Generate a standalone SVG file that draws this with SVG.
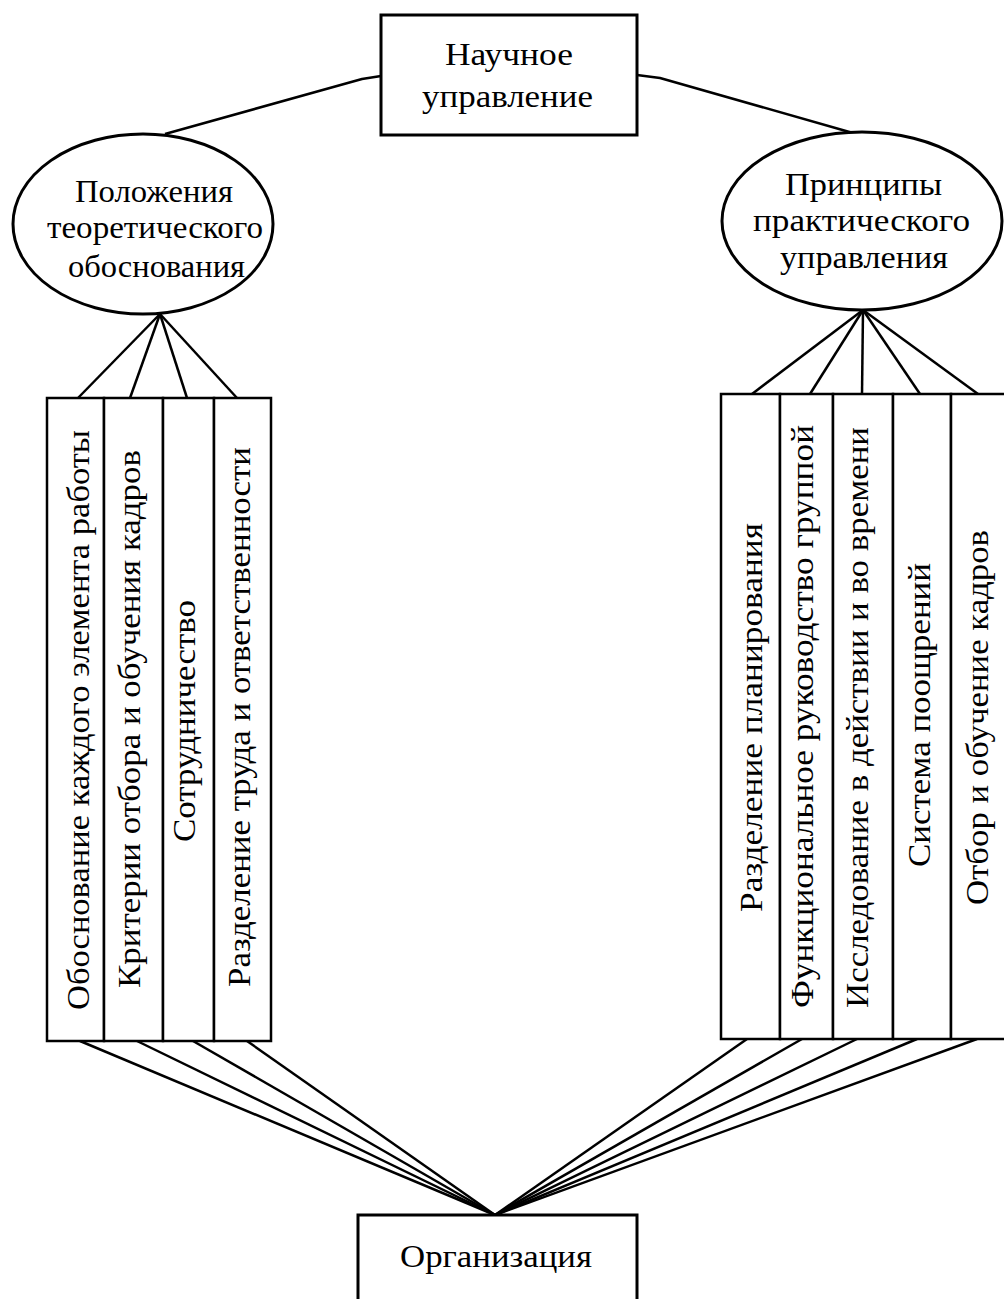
<svg xmlns="http://www.w3.org/2000/svg" width="1004" height="1299" viewBox="0 0 1004 1299">
<style>
.box{fill:#fff;stroke:#000;stroke-width:3}
.col{fill:#fff;stroke:#000;stroke-width:2.5}
.ln{fill:none;stroke:#000;stroke-width:2.5;stroke-linejoin:round}
.t{font-family:"Liberation Serif","Times New Roman",serif;font-size:31px;fill:#000}
.v{font-family:"Liberation Serif","Times New Roman",serif;font-size:32px;fill:#000}
</style>
<rect width="1004" height="1299" fill="#fff"/>
<g id="connectors">
<polyline class="ln" points="381,76 362,79 165,134"/>
<polyline class="ln" points="637,75 660,78 853,133"/>
<line class="ln" x1="160" y1="314" x2="78" y2="398"/>
<line class="ln" x1="160" y1="314" x2="130" y2="398"/>
<line class="ln" x1="160" y1="314" x2="187" y2="398"/>
<line class="ln" x1="160" y1="314" x2="237" y2="398"/>
<line class="ln" x1="863" y1="310" x2="752" y2="394"/>
<line class="ln" x1="863" y1="310" x2="810" y2="394"/>
<line class="ln" x1="863" y1="310" x2="862" y2="394"/>
<line class="ln" x1="863" y1="310" x2="920" y2="394"/>
<line class="ln" x1="863" y1="310" x2="978" y2="394"/>
<line class="ln" x1="80" y1="1041" x2="495" y2="1215"/>
<line class="ln" x1="137" y1="1041" x2="495" y2="1215"/>
<line class="ln" x1="193" y1="1041" x2="495" y2="1215"/>
<line class="ln" x1="247" y1="1041" x2="495" y2="1215"/>
<line class="ln" x1="747" y1="1039" x2="495" y2="1215"/>
<line class="ln" x1="802" y1="1039" x2="495" y2="1215"/>
<line class="ln" x1="857" y1="1039" x2="495" y2="1215"/>
<line class="ln" x1="917" y1="1039" x2="495" y2="1215"/>
<line class="ln" x1="977" y1="1039" x2="495" y2="1215"/>
</g>
<g id="node-science">
<rect class="box" x="381" y="15" width="256" height="120"/>
<text class="t" x="445" y="65" textLength="128" lengthAdjust="spacingAndGlyphs">Научное</text>
<text class="t" x="422" y="107" textLength="171" lengthAdjust="spacingAndGlyphs">управление</text>
</g>
<g id="node-theory">
<ellipse class="box" cx="143" cy="224" rx="130" ry="90"/>
<text class="t" x="75" y="202" textLength="158" lengthAdjust="spacingAndGlyphs">Положения</text>
<text class="t" x="47" y="238" textLength="216" lengthAdjust="spacingAndGlyphs">теоретического</text>
<text class="t" x="68" y="277" textLength="177" lengthAdjust="spacingAndGlyphs">обоснования</text>
</g>
<g id="node-practice">
<ellipse class="box" cx="862" cy="221" rx="140" ry="89"/>
<text class="t" x="785" y="195" textLength="157" lengthAdjust="spacingAndGlyphs">Принципы</text>
<text class="t" x="753" y="231" textLength="217" lengthAdjust="spacingAndGlyphs">практического</text>
<text class="t" x="780" y="268" textLength="168" lengthAdjust="spacingAndGlyphs">управления</text>
</g>
<g id="node-l1">
<rect class="col" x="47" y="398" width="57" height="643"/>
<text class="v" transform="translate(89,1010) rotate(-90)" textLength="580" lengthAdjust="spacingAndGlyphs">Обоснование каждого элемента работы</text>
</g>
<g id="node-l2">
<rect class="col" x="104" y="398" width="59" height="643"/>
<text class="v" transform="translate(140,988) rotate(-90)" textLength="538" lengthAdjust="spacingAndGlyphs">Критерии отбора и обучения кадров</text>
</g>
<g id="node-l3">
<rect class="col" x="163" y="398" width="51" height="643"/>
<text class="v" transform="translate(195,842) rotate(-90)" textLength="242" lengthAdjust="spacingAndGlyphs">Сотрудничество</text>
</g>
<g id="node-l4">
<rect class="col" x="214" y="398" width="57" height="643"/>
<text class="v" transform="translate(250,987) rotate(-90)" textLength="540" lengthAdjust="spacingAndGlyphs">Разделение труда и ответственности</text>
</g>
<g id="node-r1">
<rect class="col" x="721" y="394" width="59" height="645"/>
<text class="v" transform="translate(762,912) rotate(-90)" textLength="389" lengthAdjust="spacingAndGlyphs">Разделение планирования</text>
</g>
<g id="node-r2">
<rect class="col" x="780" y="394" width="53" height="645"/>
<text class="v" transform="translate(813,1008) rotate(-90)" textLength="583" lengthAdjust="spacingAndGlyphs">Функциональное руководство группой</text>
</g>
<g id="node-r3">
<rect class="col" x="833" y="394" width="60" height="645"/>
<text class="v" transform="translate(868,1008) rotate(-90)" textLength="581" lengthAdjust="spacingAndGlyphs">Исследование в действии и во времени</text>
</g>
<g id="node-r4">
<rect class="col" x="893" y="394" width="58" height="645"/>
<text class="v" transform="translate(930,867) rotate(-90)" textLength="304" lengthAdjust="spacingAndGlyphs">Система поощрений</text>
</g>
<g id="node-r5">
<rect class="col" x="951" y="394" width="56" height="645"/>
<text class="v" transform="translate(988,905) rotate(-90)" textLength="375" lengthAdjust="spacingAndGlyphs">Отбор и обучение кадров</text>
</g>
<g id="node-org">
<rect class="box" x="358" y="1215" width="279" height="100"/>
<text class="t" x="400" y="1267" textLength="192" lengthAdjust="spacingAndGlyphs">Организация</text>
</g>
</svg>
